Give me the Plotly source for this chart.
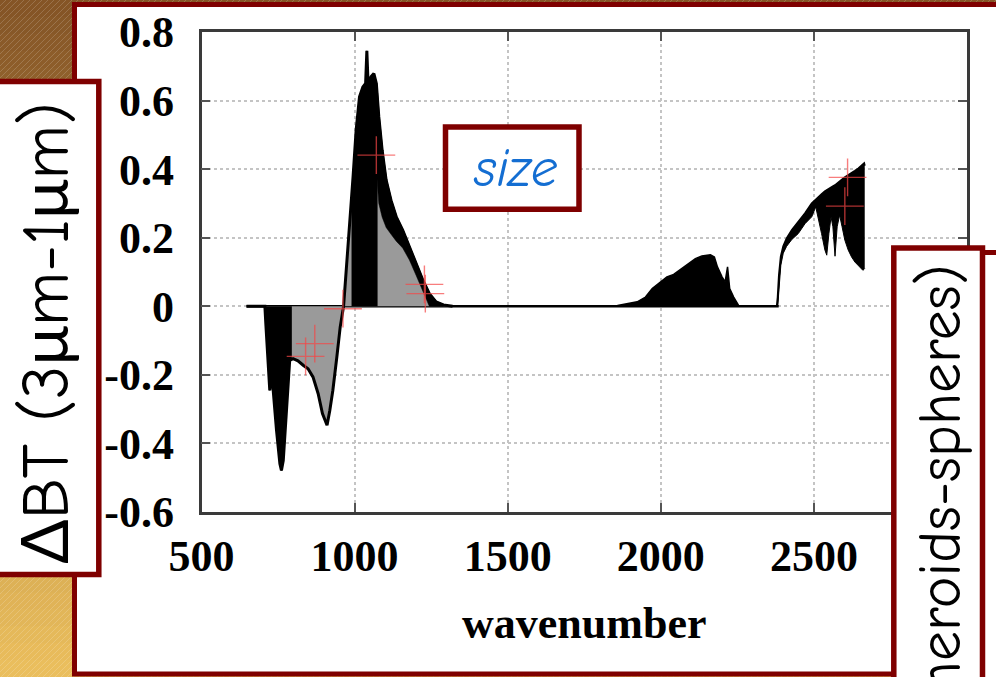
import plotly.graph_objects as go

W, H = 996, 677

# ---------------- data ----------------
# outer envelope of the thermal-IR part (negative lobe + main peak)
ir_wn = [647, 707, 710, 718, 723, 729, 734, 745, 756, 761, 767, 775, 783, 788, 799, 815, 832, 848,
         864, 881, 895, 906, 910, 919, 929, 942, 953, 964, 973, 984, 995, 1005, 1016, 1027, 1036,
         1040, 1044, 1054, 1063, 1071, 1079, 1090, 1103, 1119, 1136, 1157, 1179, 1201, 1223, 1244,
         1266, 1290, 1320]
ir_dbt = [0, 0, -0.05, -0.17, -0.245, -0.19, -0.245, -0.362, -0.459, -0.479, -0.45, -0.343, -0.216,
          -0.158, -0.153, -0.159, -0.172, -0.182, -0.206, -0.255, -0.313, -0.343, -0.347, -0.304,
          -0.245, -0.148, -0.06, 0, 0.105, 0.222, 0.378, 0.514, 0.611, 0.640, 0.650, 0.745, 0.650,
          0.670, 0.679, 0.650, 0.553, 0.455, 0.368, 0.309, 0.261, 0.222, 0.173, 0.125, 0.076, 0.037,
          0.013, 0.004, 0]

# dense (black) cores
neg_core_wn = [707, 710, 718, 723, 729, 734, 745, 756, 761, 767, 775, 783, 788, 795]
neg_core_dbt = [0, -0.05, -0.17, -0.245, -0.19, -0.245, -0.362, -0.459, -0.479, -0.45, -0.343,
                -0.216, -0.158, -0.155]

peak_core_wn = [990, 995, 1005, 1016, 1027, 1036, 1040, 1044, 1054, 1063, 1071, 1075]
peak_core_dbt = [0.30, 0.378, 0.514, 0.611, 0.640, 0.650, 0.745, 0.650, 0.670, 0.679, 0.650, 0.62]

tail_wn = [1071, 1079, 1090, 1103, 1119, 1136, 1157, 1179, 1201, 1223, 1244, 1266, 1290]
tail_top = [0.650, 0.553, 0.455, 0.368, 0.309, 0.261, 0.222, 0.173, 0.125, 0.076, 0.037, 0.013, 0.004]
tail_bot = [0.40, 0.30, 0.26, 0.23, 0.21, 0.19, 0.17, 0.135, 0.09, 0.045, 0.0, 0.0, 0.0]

# 2000-2250 bump
mid_wn = [1850, 1863, 1923, 1950, 1972, 1993, 2020, 2042, 2069, 2091, 2113, 2134, 2162, 2175, 2185,
          2200, 2210, 2218, 2225, 2238, 2254, 2259]
mid_dbt = [0, 0.003, 0.013, 0.027, 0.052, 0.066, 0.086, 0.093, 0.110, 0.125, 0.139, 0.147, 0.150,
           0.144, 0.115, 0.086, 0.071, 0.115, 0.052, 0.027, 0.003, 0]

# shortwave band (2380-2670)
sw_wn = [2379, 2382, 2386, 2392, 2400, 2411, 2428, 2449, 2471, 2493, 2506, 2514, 2525, 2536, 2542,
         2549, 2556, 2562, 2569, 2576, 2584, 2592, 2601, 2612, 2623, 2634, 2645, 2655, 2660, 2664, 2666]
sw_top = [0, 0.027, 0.09, 0.145, 0.175, 0.198, 0.222, 0.246, 0.271, 0.300, 0.312, 0.319, 0.327,
          0.335, 0.339, 0.343, 0.347, 0.350, 0.353, 0.359, 0.365, 0.370, 0.376, 0.382, 0.387, 0.395,
          0.402, 0.410, 0.414, 0.417, 0.41]
sw_bot = [0, 0, 0.05, 0.12, 0.155, 0.175, 0.195, 0.212, 0.241, 0.261, 0.29, 0.261, 0.212, 0.164,
          0.149, 0.212, 0.261, 0.232, 0.146, 0.232, 0.266, 0.232, 0.193, 0.164, 0.144, 0.129, 0.120,
          0.110, 0.105, 0.108, 0.11]

# flat zero baseline
base_wn = [647, 2385]
base_dbt = [0, 0]

# red cross markers
cross_wn = [840, 870, 962, 1071, 1228, 1231, 2601, 2610]
cross_dbt = [-0.146, -0.109, -0.007, 0.441, 0.064, 0.037, 0.292, 0.376]

x_ticks = [500, 1000, 1500, 2000, 2500]
x_ticklabels = ["500", "1000", "1500", "2000", "2500"]
y_ticks = [-0.6, -0.4, -0.2, 0, 0.2, 0.4, 0.6, 0.8]
y_ticklabels = ["-0.6", "-0.4", "-0.2", "0", "0.2", "0.4", "0.6", "0.8"]

x_title = "wavenumber"
y_label = "ΔBT (3μm-1μm)"
right_label = "ΔBT (spheroids-spheres)"
box_label = "size"

# ---------------- helpers (pixel -> paper) ----------------
def PX(x):
    return x / W

def PY(y):
    return 1 - y / H

BLACK = "#000000"
GRAY = "#9a9a9a"
RED_BORDER = "#7f0000"

fig = go.Figure()

common = dict(hoverinfo="skip", showlegend=False)

fig.add_trace(go.Scatter(x=base_wn, y=base_dbt, mode="lines",
                         line=dict(color=BLACK, width=2.5), **common))
fig.add_trace(go.Scatter(x=ir_wn, y=ir_dbt, mode="lines", fill="tozeroy", fillcolor=GRAY,
                         line=dict(color=BLACK, width=3), **common))
fig.add_trace(go.Scatter(x=neg_core_wn, y=neg_core_dbt, mode="lines", fill="tozeroy",
                         fillcolor=BLACK, line=dict(color=BLACK, width=1), **common))
fig.add_trace(go.Scatter(x=peak_core_wn, y=peak_core_dbt, mode="lines", fill="tozeroy",
                         fillcolor=BLACK, line=dict(color=BLACK, width=1), **common))
fig.add_trace(go.Scatter(x=tail_wn, y=tail_bot, mode="lines",
                         line=dict(color=BLACK, width=0.5), **common))
fig.add_trace(go.Scatter(x=tail_wn, y=tail_top, mode="lines", fill="tonexty", fillcolor=BLACK,
                         line=dict(color=BLACK, width=2), **common))
fig.add_trace(go.Scatter(x=mid_wn, y=mid_dbt, mode="lines", fill="tozeroy", fillcolor=BLACK,
                         line=dict(color=BLACK, width=1.5), **common))
fig.add_trace(go.Scatter(x=sw_wn, y=sw_bot, mode="lines",
                         line=dict(color=BLACK, width=1), **common))
fig.add_trace(go.Scatter(x=sw_wn, y=sw_top, mode="lines", fill="tonexty", fillcolor=BLACK,
                         line=dict(color=BLACK, width=2), **common))
fig.add_trace(go.Scatter(x=cross_wn, y=cross_dbt, mode="markers",
                         marker=dict(symbol="cross-thin", size=27,
                                     line=dict(color="rgba(245,70,70,0.7)", width=1.4)),
                         **common))

# ---------------- shapes: slide background, panels, boxes ----------------
shapes = []
n_bands = 40
c0 = (132, 84, 38)
c1 = (236, 192, 94)
for i in range(n_bands):
    t = (i + 0.5) / n_bands
    col = tuple(int(c0[k] + (c1[k] - c0[k]) * t) for k in range(3))
    y0 = i * H / n_bands
    y1 = (i + 1) * H / n_bands + 1
    shapes.append(dict(type="rect", xref="paper", yref="paper", layer="below",
                       x0=0, x1=1, y0=PY(y1), y1=PY(y0),
                       fillcolor="rgb(%d,%d,%d)" % col, line=dict(width=0)))
# diagonal hatch
segs = []
step = 6
k = -H
while k < W + 10:
    xa, ya = k, H
    xb, yb = k + H, 0
    segs.append("M%.5f,%.5f L%.5f,%.5f" % (PX(xa), PY(ya), PX(xb), PY(yb)))
    k += step
shapes.append(dict(type="path", xref="paper", yref="paper", layer="below",
                   path=" ".join(segs), line=dict(color="rgba(255,255,255,0.22)", width=0.8)))
# white panel
shapes.append(dict(type="rect", xref="paper", yref="paper", layer="below",
                   x0=PX(74.5), x1=PX(1040), y0=PY(674), y1=PY(4.5),
                   fillcolor="white", line=dict(color=RED_BORDER, width=5)))
# far right (partially hidden) box
shapes.append(dict(type="rect", xref="paper", yref="paper", layer="above",
                   x0=PX(960), x1=PX(1100), y0=PY(760), y1=PY(252.5),
                   fillcolor="white", line=dict(color=RED_BORDER, width=5)))
# right label box
shapes.append(dict(type="rect", xref="paper", yref="paper", layer="above",
                   x0=PX(893.8), x1=PX(982.5), y0=PY(760), y1=PY(248),
                   fillcolor="white", line=dict(color=RED_BORDER, width=5.5)))
# left label box
shapes.append(dict(type="rect", xref="paper", yref="paper", layer="above",
                   x0=PX(-4), x1=PX(98.8), y0=PY(574.5), y1=PY(81.5),
                   fillcolor="white", line=dict(color=RED_BORDER, width=5.5)))
# "size" box
shapes.append(dict(type="rect", xref="paper", yref="paper", layer="above",
                   x0=PX(445.5), x1=PX(579), y0=PY(209.3), y1=PY(127),
                   fillcolor="white", line=dict(color=RED_BORDER, width=5.5)))

COMIC = "Comic Sans MS, Comic Neue, Lato, sans-serif"
annotations = [
    dict(text=box_label, xref="paper", yref="paper", x=PX(515), y=PY(168),
         xanchor="center", yanchor="middle", showarrow=False,
         font=dict(family=COMIC, size=54, color="#146ed2", style="italic")),
    dict(text=y_label, xref="paper", yref="paper", x=PX(47), y=PY(333),
         xanchor="center", yanchor="middle", showarrow=False, textangle=-90,
         font=dict(family=COMIC, size=66, color="black")),
    dict(text=right_label, xref="paper", yref="paper", x=PX(940), y=PY(262),
         xanchor="center", yanchor="top", showarrow=False, textangle=-90,
         font=dict(family=COMIC, size=60, color="black")),
]

TIMES = "Liberation Serif, Times New Roman, serif"
fig.update_layout(
    width=W, height=H,
    margin=dict(l=0, r=0, t=0, b=0, autoexpand=False),
    paper_bgcolor="rgb(180,130,60)",
    plot_bgcolor="rgba(0,0,0,0)",
    shapes=shapes,
    annotations=annotations,
    xaxis=dict(domain=[PX(201.5), PX(967)], range=[500, 3000], automargin=False,
               tickmode="array", tickvals=x_ticks, ticktext=x_ticklabels,
               ticks="inside", ticklen=9, tickwidth=1.5, tickcolor="#555",
               showline=True, linecolor="#3a3a3a", linewidth=2.5, mirror="allticks",
               showgrid=True, gridcolor="#c4c4c4", griddash="dot", gridwidth=1.5,
               zeroline=False, ticklabelstandoff=3,
               tickfont=dict(family=TIMES, size=44, color="black", weight="bold"),
               title=dict(text=x_title, standoff=28,
                          font=dict(family=TIMES, size=44, color="black", weight="bold"))),
    yaxis=dict(domain=[PY(512), PY(32)], range=[-0.6, 0.8], automargin=False,
               tickmode="array", tickvals=y_ticks, ticktext=y_ticklabels,
               ticks="inside", ticklen=9, tickwidth=1.5, tickcolor="#555",
               showline=True, linecolor="#3a3a3a", linewidth=2.5, mirror="allticks",
               showgrid=True, gridcolor="#c4c4c4", griddash="dot", gridwidth=1.5,
               zeroline=False, ticklabelstandoff=16,
               tickfont=dict(family=TIMES, size=44, color="black", weight="bold")),
)

fig.write_html("out.html", config={"displayModeBar": False},
               post_script="document.body.style.margin='0';document.body.style.overflow='hidden';")
